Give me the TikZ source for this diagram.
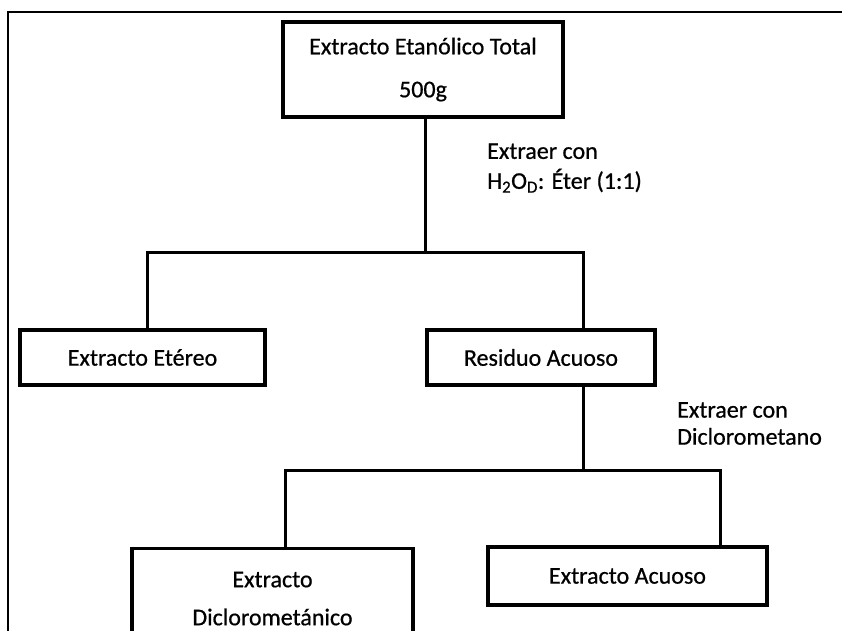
\documentclass[tikz,border=0pt]{standalone}
\usepackage{fontspec}
\setmainfont{Carlito}[FakeBold=0.7]
\begin{document}
\begin{tikzpicture}[x=1pt,y=-1pt,
  box/.style={draw,line width=3.2pt,rectangle,inner sep=0pt,align=center,font=\fontsize{24}{29}\selectfont},
  conn/.style={line width=3pt},
  lbl/.style={anchor=west,align=left,inner sep=0pt,font=\fontsize{24}{30}\selectfont}]
\useasboundingbox (0,0) rectangle (842,630);
\clip (0,0) rectangle (842,630);
% frame
\draw[line width=2.2pt] (8,640) -- (8,12) -- (850,12);
% boxes
\node[box,minimum width=280pt,minimum height=95pt] (top) at (423,69.5) {Extracto Etanólico Total\\[14pt]500g};
\node[box,minimum width=245pt,minimum height=55pt] (ete) at (142.5,357.5) {Extracto Etéreo};
\node[box,minimum width=228pt,minimum height=55pt] (res) at (541,357.5) {Residuo Acuoso};
\node[box,minimum width=281pt,minimum height=100pt,anchor=north] (dic) at (272.5,547) {Extracto\\[9pt]Diclorometánico};
\node[box,minimum width=279pt,minimum height=58pt] (acu) at (627.5,576) {Extracto Acuoso};
% labels
\node[lbl] (l1) at (487,168) {Extraer con\\H\textsubscript{2}O\textsubscript{D}: Éter (1:1)};
\node[lbl] (l2) at (677,423.5) {Extraer con\\[-3pt]Diclorometano};
% connectors
\coordinate (j1) at (425,252);
\coordinate (a1) at (147,252);
\coordinate (a2) at (583,252);
\draw[conn] (top.south -| j1) -- (j1);
\draw[conn] (a1 |- ete.north) -- (a1) -- (a2) -- (a2 |- res.north);
\coordinate (j2) at (583,470);
\coordinate (b1) at (285,470);
\coordinate (b2) at (720,470);
\draw[conn] (res.south -| j2) -- (j2);
\draw[conn] (b1 |- dic.north) -- (b1) -- (b2) -- (b2 |- acu.north);
\end{tikzpicture}
\end{document}
